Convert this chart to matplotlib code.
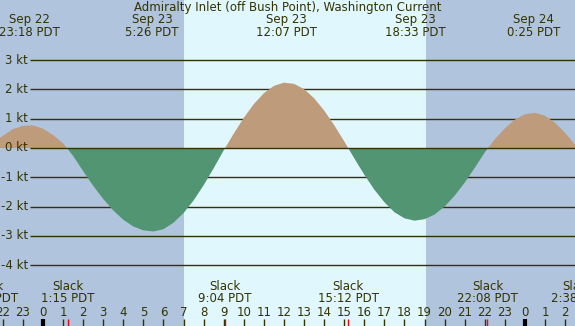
import numpy as np
import matplotlib
matplotlib.use("Agg")
import matplotlib.pyplot as plt

# ----- data (hours from Sep 23 00:00 PDT, knots) -----
hours = np.arange(-2.5, 27.01, 0.5)
current = [0.14, 0.42, 0.64, 0.76, 0.77, 0.66, 0.44, 0.16,
           -0.27, -0.79, -1.29, -1.74, -2.13, -2.45, -2.68, -2.81,
           -2.85, -2.77, -2.55, -2.22, -1.79, -1.27, -0.69, -0.08,
           0.49, 1.03, 1.50, 1.87, 2.12, 2.23, 2.19, 2.01,
           1.70, 1.28, 0.78, 0.23, -0.35, -0.91, -1.42, -1.85,
           -2.19, -2.40, -2.48, -2.43, -2.27, -2.00, -1.63, -1.18,
           -0.68, -0.15, 0.30, 0.67, 0.97, 1.15, 1.20, 1.10,
           0.86, 0.52, 0.11, -0.45]

max_times = [-0.70, 5.433, 12.117, 18.55, 24.417]
max_dates = ["Sep 22", "Sep 23", "Sep 23", "Sep 23", "Sep 24"]
max_clock = ["23:18 PDT", "5:26 PDT", "12:07 PDT", "18:33 PDT", "0:25 PDT"]

slack_times = [-2.74, 1.25, 9.067, 15.2, 22.133, 26.633]
slack_clock = ["21:16 PDT", "1:15 PDT", "9:04 PDT", "15:12 PDT", "22:08 PDT", "2:38 PDT"]

sunrise, sunset = 7.0, 19.05
kt_levels = [3, 2, 1, 0, -1, -2, -3, -4]
hour_ticks = np.arange(-2, 27)

title = "Admiralty Inlet (off Bush Point), Washington Current"

# ----- pixel geometry of the picture -----
W, H = 575, 326
px_hour = 20.08      # pixels per hour
x0 = 43              # pixel of Sep 23 00:00
px_kt = 29.3         # pixels per knot
y0 = 148             # pixel row of 0 kt

def hx(px):
    return (px - x0) / px_hour

def ky(py):
    return (y0 - py) / px_kt

fg = "#333300"
night = "#b0c4de"
day = "#e0f7fe"
flood = "#be9b7a"
ebb = "#529572"

fig = plt.figure(figsize=(W / 100, H / 100), dpi=100)
ax = fig.add_axes([0, 0, 1, 1])
ax.set_xlim(hx(0), hx(W))
ax.set_ylim(ky(H), ky(0))
ax.axis("off")
fig.patch.set_facecolor(night)
ax.set_facecolor(night)

ax.axvspan(hx(-10), sunrise, color=night, lw=0, zorder=0)
ax.axvspan(sunrise, sunset, color=day, lw=0, zorder=0)
ax.axvspan(sunset, hx(W + 10), color=night, lw=0, zorder=0)

# grid lines with labels
for k in kt_levels:
    ax.hlines(k, hx(30), hx(W + 5), color=fg, lw=1, zorder=1 if k != 0 else 4)
    ax.text(hx(28), k, f"{k} kt", ha="right", va="center", color=fg, fontsize=8.5)

hrs = np.array(hours)
cur = np.array(current)
ax.fill_between(hrs, cur, 0, where=cur >= 0, interpolate=True, color=flood, lw=0, zorder=2)
ax.fill_between(hrs, cur, 0, where=cur <= 0, interpolate=True, color=ebb, lw=0, zorder=2)

xt = ax.get_xaxis_transform()

def yf(py):
    return 1 - py / H

ax.text(hx(W / 2), yf(8), title, transform=xt, ha="center", va="center", color=fg, fontsize=8.5)
for t, d, c in zip(max_times, max_dates, max_clock):
    ax.text(t, yf(20), d, transform=xt, ha="center", va="center", color=fg, fontsize=8.5)
    ax.text(t, yf(32), c, transform=xt, ha="center", va="center", color=fg, fontsize=8.5)

for t, c in zip(slack_times, slack_clock):
    ax.text(t, yf(287), "Slack", transform=xt, ha="center", va="center", color=fg, fontsize=8.5)
    ax.text(t, yf(299), c, transform=xt, ha="center", va="center", color=fg, fontsize=8.5)
    ax.vlines(t, ky(319), ky(H + 2), color="red", lw=1, zorder=5)

for h in hour_ticks:
    ax.text(h, yf(312), str(h % 24), transform=xt, ha="center", va="center", color=fg, fontsize=8.5)
    if h % 24 == 0:
        ax.vlines(h, ky(319), ky(H + 2), color="black", lw=3, zorder=5)
    else:
        ax.vlines(h, ky(319), ky(H + 2), color=fg, lw=1, zorder=5)

fig.savefig("out.png", dpi=100, facecolor=night)
